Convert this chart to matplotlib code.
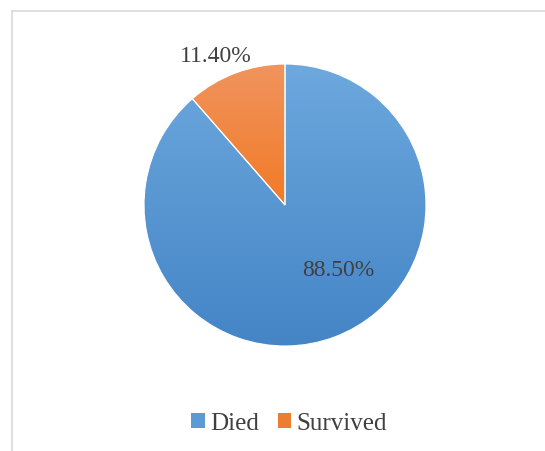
import numpy as np
import matplotlib.pyplot as plt
from matplotlib.patches import Patch
from matplotlib.lines import Line2D
from matplotlib.colors import LinearSegmentedColormap

labels = ['Died', 'Survived']
values = [88.50, 11.40]
pct_text = ['88.50%', '11.40%']
# top / bottom gradient colours per slice
grad = [('#6da8de', '#4485c6'), ('#f0945e', '#f27a26')]
solid = ['#5b9bd5', '#ed7d31']

plt.rcParams['font.family'] = ['Liberation Serif', 'DejaVu Serif']

fig = plt.figure(figsize=(5.45, 4.52), dpi=100)
W, H = 545, 452

# pie axes: 282 px box centred at (285, 206)
ax = fig.add_axes([144 / W, (H - 347) / H, 282 / W, 282 / H])
wedges, _ = ax.pie(values, startangle=90, counterclock=False,
                   wedgeprops=dict(edgecolor='white', linewidth=0.8))
ax.set_aspect('equal')
ax.axis('off')

for w, (top, bot) in zip(wedges, grad):
    ext = w.get_path().get_extents()
    cmap = LinearSegmentedColormap.from_list('g', [bot, top])
    g = np.linspace(0, 1, 256).reshape(-1, 1)
    im = ax.imshow(g, cmap=cmap, origin='lower', aspect='auto',
                   extent=[ext.x0, ext.x1, ext.y0, ext.y1], zorder=w.get_zorder())
    im.set_clip_path(w)
    w.set_facecolor('none')
    w.set_zorder(w.get_zorder() + 1)
ax.set_xlim(-1, 1)
ax.set_ylim(-1, 1)

ax.text(0.376, -0.454, pct_text[0], ha='center', va='center',
        fontsize=17, color='#404040', zorder=5)
ax.text(-0.49, 1.06, pct_text[1], ha='center', va='center',
        fontsize=17, color='#404040', zorder=5, clip_on=False)

handles = [Patch(facecolor=c, edgecolor='none') for c in solid]
fig.legend(handles, labels, loc='center', bbox_to_anchor=(289 / W, 1 - 424 / H),
           ncol=2, frameon=False, fontsize=18, labelcolor='#404040',
           handlelength=0.55, handleheight=0.55, handletextpad=0.2,
           columnspacing=0.75)

# chart border (top and left visible)
fig.add_artist(Line2D([11.5 / W, 1], [1 - 11.5 / H, 1 - 11.5 / H],
                      color='#d9d9d9', linewidth=1.2, transform=fig.transFigure))
fig.add_artist(Line2D([11.5 / W, 11.5 / W], [0, 1 - 11.5 / H],
                      color='#d9d9d9', linewidth=1.2, transform=fig.transFigure))

fig.savefig('out.png', dpi=100)
